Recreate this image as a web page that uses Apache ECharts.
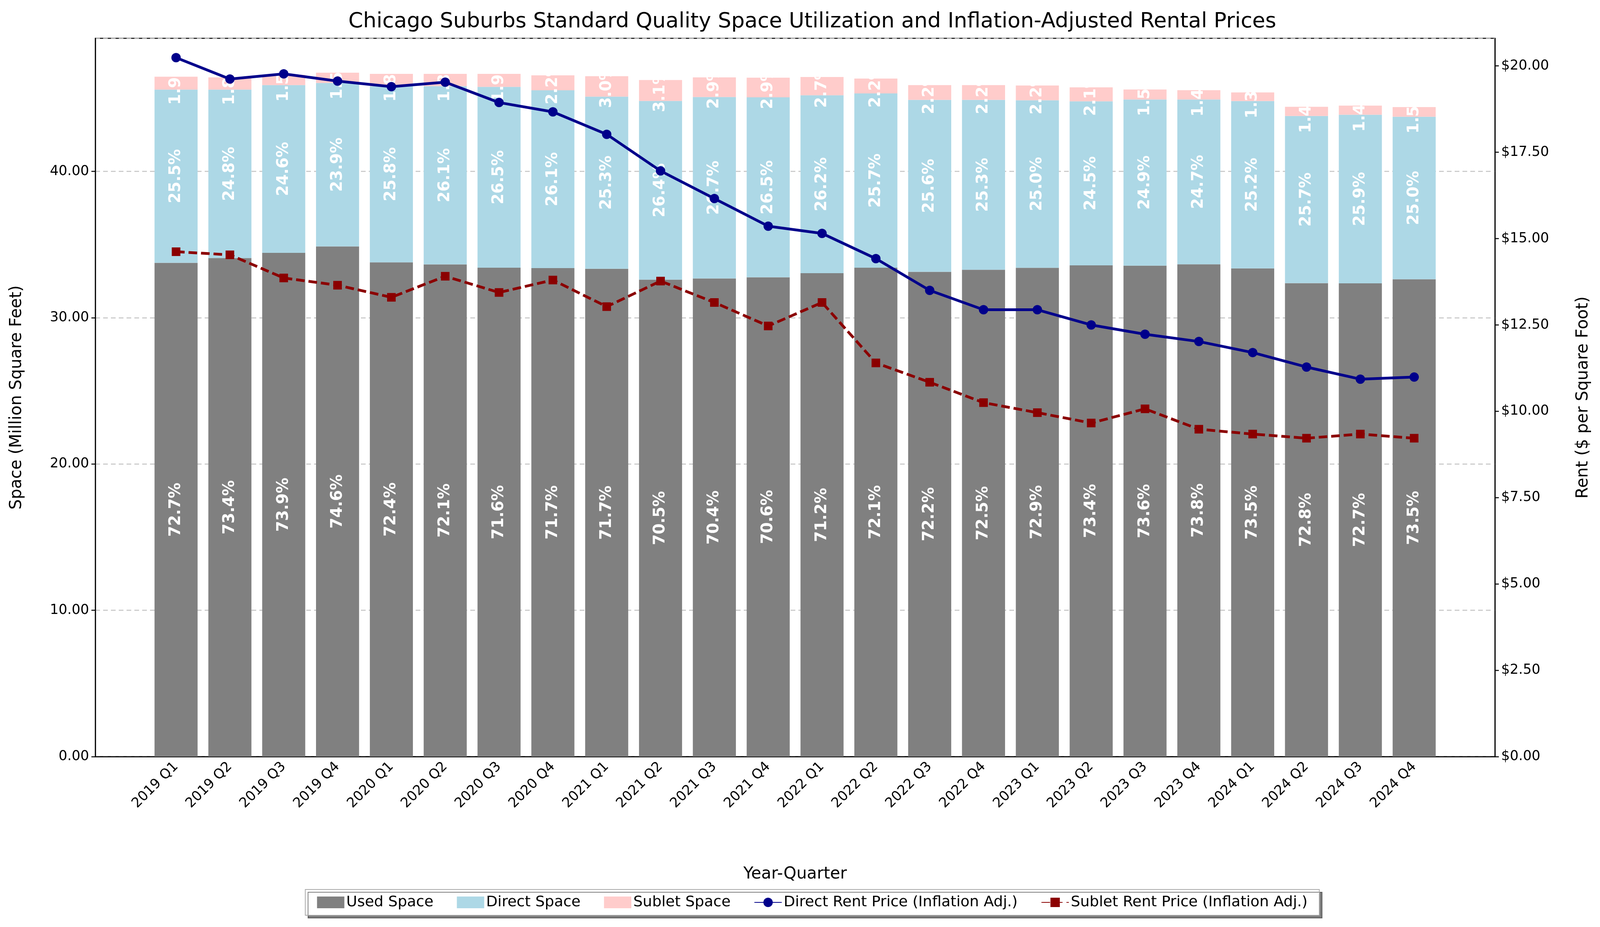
<!DOCTYPE html>
<html><head><meta charset="utf-8">
<script src="https://cdn.jsdelivr.net/npm/echarts@6/dist/echarts.min.js"></script>
<style>html,body{margin:0;padding:0;background:#fff}#c{width:4159px;height:2372px}</style>
</head><body><div id="c"></div>
<script>
const quarters = ["2019 Q1","2019 Q2","2019 Q3","2019 Q4","2020 Q1","2020 Q2","2020 Q3","2020 Q4","2021 Q1","2021 Q2","2021 Q3","2021 Q4","2022 Q1","2022 Q2","2022 Q3","2022 Q4","2023 Q1","2023 Q2","2023 Q3","2023 Q4","2024 Q1","2024 Q2","2024 Q3","2024 Q4"];
const totalSpace = [46.43,46.43,46.6,46.75,46.67,46.67,46.67,46.57,46.51,46.25,46.43,46.41,46.41,46.35,45.9,45.9,45.83,45.75,45.6,45.6,45.4,44.46,44.5,44.4];
const usedPct = [72.7,73.4,73.9,74.6,72.4,72.1,71.6,71.7,71.7,70.5,70.4,70.6,71.2,72.1,72.2,72.5,72.9,73.4,73.6,73.8,73.5,72.8,72.7,73.5];
const directPct = [25.5,24.8,24.6,23.9,25.8,26.1,26.5,26.1,25.3,26.4,26.7,26.5,26.2,25.7,25.6,25.3,25.0,24.5,24.9,24.7,25.2,25.7,25.9,25.0];
const subletPct = [1.9,1.8,1.5,1.5,1.8,1.8,1.9,2.2,3.0,3.1,2.9,2.9,2.7,2.2,2.2,2.2,2.2,2.1,1.5,1.4,1.3,1.4,1.4,1.5];
const directRent = [20.24,19.62,19.77,19.56,19.4,19.53,18.94,18.67,18.02,16.96,16.16,15.36,15.15,14.42,13.5,12.94,12.94,12.5,12.23,12.02,11.7,11.28,10.93,10.99];
const subletRent = [14.62,14.53,13.86,13.65,13.3,13.91,13.44,13.8,13.03,13.77,13.15,12.47,13.15,11.4,10.84,10.25,9.96,9.66,10.07,9.48,9.34,9.22,9.34,9.22];
const leftTicks = [0,10,20,30,40];
const rightTicks = [0,2.5,5,7.5,10,12.5,15,17.5,20];

// one empty padding category at each end (matplotlib-style margins)
const cats = [''].concat(quarters, ['']);
const pad = a => [null].concat(a, [null]);
const used = pad(totalSpace.map((t,i)=>t*usedPct[i]/100));
const direct = pad(totalSpace.map((t,i)=>t*directPct[i]/100));
const sublet = pad(totalSpace.map((t,i)=>t*subletPct[i]/100));
const F = "DejaVu Sans";
const lbl = arr => ({show:true, rotate:90, position:'inside', color:'#fff', fontWeight:'bold', fontSize:40, fontFamily:F,
  formatter:p=>arr[p.dataIndex-1].toFixed(1)+'%'});
const chart = echarts.init(document.getElementById('c'));
chart.setOption({
  animation:false,
  textStyle:{fontFamily:F},
  title:{text:'Chicago Suburbs Standard Quality Space Utilization and Inflation-Adjusted Rental Prices',left:'center',top:24,textStyle:{fontFamily:F,fontSize:54,fontWeight:'normal',color:'#000'}},
  grid:{left:244,right:332,top:98,bottom:436,show:true,borderColor:'#000',borderWidth:2.5,backgroundColor:'transparent'},
  legend:{bottom:30,left:'center',itemGap:60,itemWidth:70,itemHeight:30,padding:[14,30],borderColor:'#aaa',borderWidth:2,
    backgroundColor:'#fff',shadowColor:'rgba(0,0,0,0.5)',shadowBlur:0,shadowOffsetX:7,shadowOffsetY:7,
    textStyle:{fontFamily:F,fontSize:38,color:'#000'},
    data:[{name:'Used Space',icon:'rect'},{name:'Direct Space',icon:'rect'},{name:'Sublet Space',icon:'rect'},'Direct Rent Price (Inflation Adj.)','Sublet Rent Price (Inflation Adj.)']},
  xAxis:{type:'category',data:cats,name:'Year-Quarter',nameLocation:'middle',nameGap:280,nameTextStyle:{fontFamily:F,fontSize:42,color:'#000'},
    axisTick:{alignWithLabel:true,length:10,interval:(i)=>i>0&&i<cats.length-1,lineStyle:{color:'#000',width:2.5}},axisLine:{lineStyle:{color:'#000',width:2.5}},
    axisLabel:{rotate:45,interval:0,fontSize:35,color:'#000',fontFamily:F,margin:20}},
  yAxis:[
    {type:'value',min:0,max:49.1,interval:10,name:'Space (Million Square Feet)',nameLocation:'middle',nameGap:180,nameTextStyle:{fontFamily:F,fontSize:42,color:'#000'},
     axisLine:{show:true,lineStyle:{color:'#000',width:2.5}},axisTick:{show:true,length:10,lineStyle:{color:'#000',width:2.5}},
     axisLabel:{fontSize:35,color:'#000',fontFamily:F,margin:16,formatter:v=>leftTicks.includes(v)?v.toFixed(2):'',showMaxLabel:false},
     splitLine:{show:true,lineStyle:{color:'#c4c4c4',type:[12,8],width:2.5}}},
    {type:'value',min:0,max:20.8,interval:2.5,name:'Rent ($ per Square Foot)',nameLocation:'middle',nameGap:205,nameRotate:90,nameTextStyle:{fontFamily:F,fontSize:42,color:'#000'},
     axisLine:{show:true,lineStyle:{color:'#000',width:2.5}},axisTick:{show:true,length:10,lineStyle:{color:'#000',width:2.5}},
     axisLabel:{fontSize:35,color:'#000',fontFamily:F,margin:16,formatter:v=>rightTicks.includes(v)?'$'+v.toFixed(2):'',showMaxLabel:false},
     splitLine:{show:false}}
  ],
  series:[
    {name:'Used Space',type:'bar',stack:'s',data:used,barCategoryGap:'20%',itemStyle:{color:'#808080'},label:lbl(usedPct)},
    {name:'Direct Space',type:'bar',stack:'s',data:direct,itemStyle:{color:'#add8e6'},label:lbl(directPct)},
    {name:'Sublet Space',type:'bar',stack:'s',data:sublet,itemStyle:{color:'#ffcccb'},label:lbl(subletPct)},
    {name:'Direct Rent Price (Inflation Adj.)',type:'line',yAxisIndex:1,data:pad(directRent),symbol:'circle',symbolSize:24,z:5,lineStyle:{color:'#00008b',width:7},itemStyle:{color:'#00008b'}},
    {name:'Sublet Rent Price (Inflation Adj.)',type:'line',yAxisIndex:1,data:pad(subletRent),symbol:'rect',symbolSize:22,z:5,lineStyle:{color:'#8b0000',width:7,type:[22,10]},itemStyle:{color:'#8b0000'}}
  ]
});
</script></body></html>
